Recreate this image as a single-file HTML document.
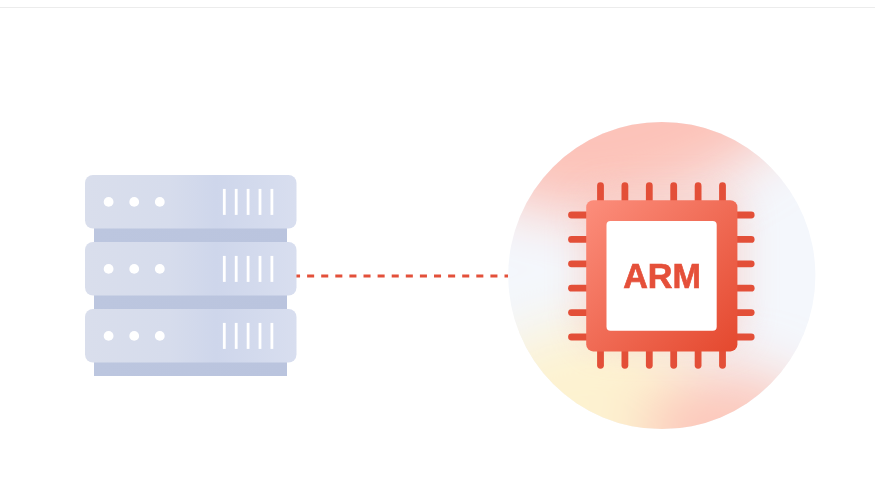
<!DOCTYPE html>
<html><head><meta charset="utf-8">
<style>
html,body{margin:0;padding:0;background:#fff;width:875px;height:496px;overflow:hidden;}
.topline{position:absolute;left:0;top:7px;width:875px;height:1px;background:#ececec;}
svg{position:absolute;left:0;top:0;}
</style></head><body>
<div class="topline"></div>
<svg width="875" height="496" viewBox="0 0 875 496">
<defs>
<linearGradient id="blk" x1="0" y1="0" x2="1" y2="0">
<stop offset="0" stop-color="#d9deec"/>
<stop offset="0.4" stop-color="#d6dcec"/>
<stop offset="0.62" stop-color="#ced6eb"/>
<stop offset="1" stop-color="#d8deef"/>
</linearGradient>
<linearGradient id="band" x1="0" y1="0" x2="1" y2="0">
<stop offset="0" stop-color="#bcc6df"/>
<stop offset="1" stop-color="#bac4de"/>
</linearGradient>
<linearGradient id="body" x1="0" y1="0" x2="1" y2="1">
<stop offset="0" stop-color="#fc8e7c"/>
<stop offset="1" stop-color="#e4482e"/>
</linearGradient>
<clipPath id="circ"><circle cx="661.8" cy="275.5" r="153.6"/></clipPath>
<filter id="bl" x="400" y="0" width="500" height="520" filterUnits="userSpaceOnUse"><feGaussianBlur stdDeviation="28"/></filter>
<filter id="bl2" x="400" y="0" width="500" height="520" filterUnits="userSpaceOnUse"><feGaussianBlur stdDeviation="16"/></filter>
</defs>
<g clip-path="url(#circ)">
<rect x="500" y="115" width="330" height="320" fill="#f4f7fc"/>
<g filter="url(#bl)">
<ellipse cx="645" cy="122" rx="170" ry="76" fill="#fcc3b9" transform="rotate(-18 645 122)"/>
<ellipse cx="592" cy="425" rx="130" ry="100" fill="#fdf2d0"/>
<ellipse cx="728" cy="430" rx="85" ry="60" fill="#fcc8bc"/>
</g>
<rect x="578" y="188" width="168" height="160" rx="30" fill="#f9bfb3" opacity="0.45" filter="url(#bl2)"/>
</g>
<g fill="none" stroke="#e3503a" stroke-width="6.8" stroke-dasharray="7.05 7.05">
<line x1="293" y1="276" x2="508" y2="276" stroke-width="2.8"/>
</g>
<rect x="94" y="227" width="193" height="15" fill="url(#band)"/>
<rect x="94" y="294" width="193" height="15" fill="url(#band)"/>
<rect x="94" y="361" width="193" height="15" fill="url(#band)"/>
<rect x="85" y="175" width="211.5" height="53.5" rx="8" fill="url(#blk)"/>
<circle cx="108.6" cy="201.9" r="4.9" fill="#fff"/>
<circle cx="134.2" cy="201.9" r="4.9" fill="#fff"/>
<circle cx="159.8" cy="201.9" r="4.9" fill="#fff"/>
<rect x="222.90" y="188.9" width="2.8" height="26" fill="#fff"/>
<rect x="234.80" y="188.9" width="2.8" height="26" fill="#fff"/>
<rect x="246.70" y="188.9" width="2.8" height="26" fill="#fff"/>
<rect x="258.60" y="188.9" width="2.8" height="26" fill="#fff"/>
<rect x="270.50" y="188.9" width="2.8" height="26" fill="#fff"/>
<rect x="85" y="242" width="211.5" height="53.5" rx="8" fill="url(#blk)"/>
<circle cx="108.6" cy="268.9" r="4.9" fill="#fff"/>
<circle cx="134.2" cy="268.9" r="4.9" fill="#fff"/>
<circle cx="159.8" cy="268.9" r="4.9" fill="#fff"/>
<rect x="222.90" y="255.9" width="2.8" height="26" fill="#fff"/>
<rect x="234.80" y="255.9" width="2.8" height="26" fill="#fff"/>
<rect x="246.70" y="255.9" width="2.8" height="26" fill="#fff"/>
<rect x="258.60" y="255.9" width="2.8" height="26" fill="#fff"/>
<rect x="270.50" y="255.9" width="2.8" height="26" fill="#fff"/>
<rect x="85" y="309" width="211.5" height="53.5" rx="8" fill="url(#blk)"/>
<circle cx="108.6" cy="335.9" r="4.9" fill="#fff"/>
<circle cx="134.2" cy="335.9" r="4.9" fill="#fff"/>
<circle cx="159.8" cy="335.9" r="4.9" fill="#fff"/>
<rect x="222.90" y="322.9" width="2.8" height="26" fill="#fff"/>
<rect x="234.80" y="322.9" width="2.8" height="26" fill="#fff"/>
<rect x="246.70" y="322.9" width="2.8" height="26" fill="#fff"/>
<rect x="258.60" y="322.9" width="2.8" height="26" fill="#fff"/>
<rect x="270.50" y="322.9" width="2.8" height="26" fill="#fff"/>
<g stroke="#e34f38" stroke-width="6.8" stroke-linecap="round">
<line x1="600.50" y1="185.7" x2="600.50" y2="210" />
<line x1="600.50" y1="341" x2="600.50" y2="365.3" />
<line x1="571.5" y1="215.00" x2="596" y2="215.00" />
<line x1="727" y1="215.00" x2="751.2" y2="215.00" />
<line x1="624.90" y1="185.7" x2="624.90" y2="210" />
<line x1="624.90" y1="341" x2="624.90" y2="365.3" />
<line x1="571.5" y1="239.40" x2="596" y2="239.40" />
<line x1="727" y1="239.40" x2="751.2" y2="239.40" />
<line x1="649.30" y1="185.7" x2="649.30" y2="210" />
<line x1="649.30" y1="341" x2="649.30" y2="365.3" />
<line x1="571.5" y1="263.80" x2="596" y2="263.80" />
<line x1="727" y1="263.80" x2="751.2" y2="263.80" />
<line x1="673.70" y1="185.7" x2="673.70" y2="210" />
<line x1="673.70" y1="341" x2="673.70" y2="365.3" />
<line x1="571.5" y1="288.20" x2="596" y2="288.20" />
<line x1="727" y1="288.20" x2="751.2" y2="288.20" />
<line x1="698.10" y1="185.7" x2="698.10" y2="210" />
<line x1="698.10" y1="341" x2="698.10" y2="365.3" />
<line x1="571.5" y1="312.60" x2="596" y2="312.60" />
<line x1="727" y1="312.60" x2="751.2" y2="312.60" />
<line x1="722.50" y1="185.7" x2="722.50" y2="210" />
<line x1="722.50" y1="341" x2="722.50" y2="365.3" />
<line x1="571.5" y1="337.00" x2="596" y2="337.00" />
<line x1="727" y1="337.00" x2="751.2" y2="337.00" />
</g>
<rect x="586.2" y="200.2" width="151.2" height="151.2" rx="7" fill="url(#body)"/>
<rect x="606.5" y="220.9" width="110.2" height="109.8" rx="4" fill="#fff"/>
<text x="623.2" y="288.2" font-family="Liberation Sans" font-weight="bold" font-size="35.8" textLength="77.8" stroke="#e5503a" stroke-width="0.7" lengthAdjust="spacingAndGlyphs" fill="#e5503a">ARM</text>
</svg>
</body></html>
